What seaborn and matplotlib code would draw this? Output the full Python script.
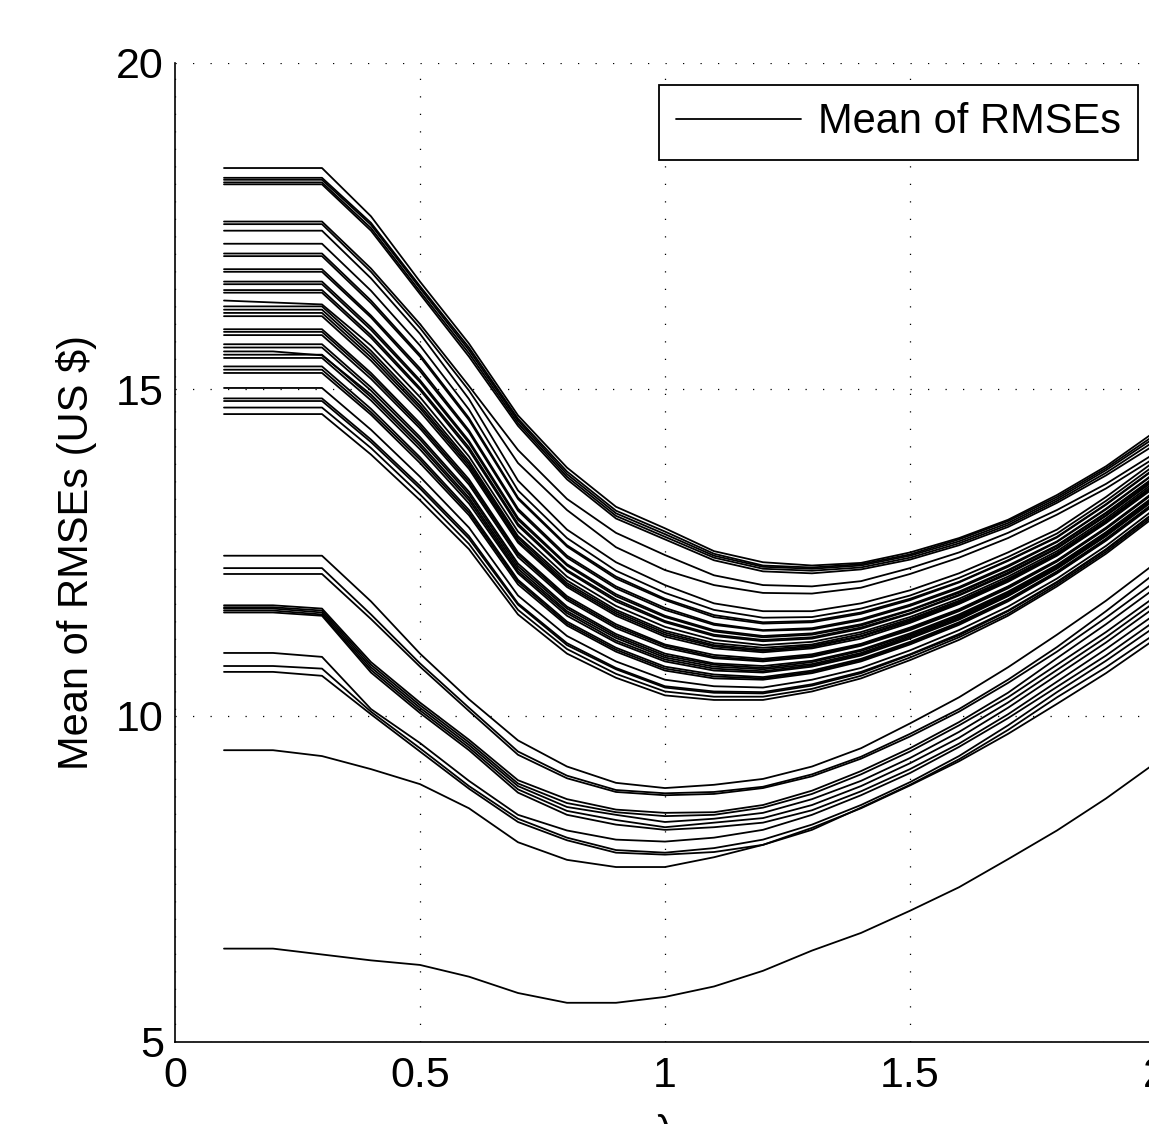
import numpy as np
import pandas as pd
import matplotlib
matplotlib.use("Agg")
import matplotlib.pyplot as plt
import seaborn as sns
from matplotlib.lines import Line2D

# lambda grid (x axis)
lam = [0.1, 0.2, 0.3, 0.4, 0.5, 0.6, 0.7, 0.8, 0.9, 1.0,
       1.1, 1.2, 1.3, 1.4, 1.5, 1.6, 1.7, 1.8, 1.9, 2.0]

# top band (highest starting curves)
top_curves = [
    [18.39, 18.39, 18.39, 17.65, 16.65, 15.70, 14.60, 13.80, 13.20, 12.87, 12.52, 12.35, 12.30, 12.34, 12.50, 12.72, 13.00, 13.38, 13.82, 14.35],
    [18.24, 18.24, 18.24, 17.55, 16.58, 15.64, 14.55, 13.74, 13.14, 12.82, 12.48, 12.30, 12.27, 12.32, 12.47, 12.70, 12.98, 13.35, 13.79, 14.30],
    [18.21, 18.21, 18.21, 17.52, 16.55, 15.60, 14.52, 13.70, 13.10, 12.78, 12.45, 12.28, 12.25, 12.30, 12.45, 12.67, 12.95, 13.32, 13.76, 14.26],
    [18.17, 18.17, 18.17, 17.47, 16.50, 15.55, 14.48, 13.66, 13.06, 12.74, 12.42, 12.25, 12.22, 12.27, 12.42, 12.64, 12.92, 13.29, 13.72, 14.21],
    [18.14, 18.14, 18.14, 17.43, 16.46, 15.50, 14.44, 13.62, 13.02, 12.70, 12.38, 12.21, 12.18, 12.24, 12.39, 12.61, 12.89, 13.26, 13.68, 14.15],
    [17.57, 17.57, 17.57, 16.85, 16.00, 15.05, 14.07, 13.32, 12.80, 12.46, 12.15, 12.00, 11.98, 12.06, 12.26, 12.50, 12.80, 13.15, 13.55, 14.02],
    [17.53, 17.53, 17.53, 16.80, 15.94, 14.98, 13.87, 13.15, 12.58, 12.23, 12.00, 11.88, 11.87, 11.96, 12.17, 12.42, 12.72, 13.08, 13.48, 13.95],
]

# main band
mid_curves = [
    [17.43, 17.43, 17.43, 16.70, 15.85, 14.85, 13.60, 12.85, 12.35, 12.00, 11.72, 11.60, 11.60, 11.72, 11.92, 12.18, 12.50, 12.85, 13.35, 13.90],
    [17.23, 17.23, 17.23, 16.51, 15.67, 14.69, 13.45, 12.72, 12.22, 11.88, 11.62, 11.50, 11.51, 11.64, 11.84, 12.11, 12.43, 12.79, 13.29, 13.84],
    [17.08, 17.08, 17.08, 16.36, 15.53, 14.56, 13.34, 12.61, 12.13, 11.79, 11.54, 11.43, 11.45, 11.58, 11.79, 12.05, 12.38, 12.74, 13.24, 13.79],
    [17.04, 17.04, 17.04, 16.32, 15.50, 14.53, 13.32, 12.59, 12.10, 11.77, 11.51, 11.41, 11.43, 11.56, 11.77, 12.04, 12.37, 12.73, 13.23, 13.78],
    [16.84, 16.84, 16.84, 16.13, 15.32, 14.37, 13.17, 12.45, 11.98, 11.65, 11.41, 11.31, 11.34, 11.48, 11.70, 11.97, 12.30, 12.67, 13.17, 13.72],
    [16.80, 16.80, 16.80, 16.10, 15.28, 14.34, 13.14, 12.42, 11.95, 11.62, 11.39, 11.30, 11.32, 11.46, 11.68, 11.95, 12.28, 12.66, 13.16, 13.71],
    [16.65, 16.65, 16.65, 15.95, 15.14, 14.21, 13.03, 12.32, 11.86, 11.53, 11.31, 11.22, 11.26, 11.40, 11.62, 11.90, 12.23, 12.61, 13.11, 13.66],
    [16.61, 16.61, 16.61, 15.91, 15.11, 14.18, 13.00, 12.30, 11.83, 11.51, 11.29, 11.20, 11.24, 11.38, 11.61, 11.88, 12.22, 12.60, 13.10, 13.65],
    [16.52, 16.52, 16.52, 15.83, 15.02, 14.11, 12.94, 12.23, 11.78, 11.45, 11.24, 11.16, 11.20, 11.35, 11.57, 11.85, 12.19, 12.57, 13.07, 13.63],
    [16.48, 16.48, 16.48, 15.79, 14.99, 14.07, 12.91, 12.21, 11.75, 11.43, 11.22, 11.14, 11.18, 11.33, 11.56, 11.84, 12.17, 12.56, 13.06, 13.61],
    [16.36, 16.33, 16.30, 15.67, 14.88, 13.97, 12.82, 12.13, 11.68, 11.36, 11.16, 11.08, 11.13, 11.28, 11.51, 11.79, 12.13, 12.52, 13.02, 13.58],
    [16.27, 16.27, 16.27, 15.59, 14.80, 13.90, 12.75, 12.07, 11.62, 11.30, 11.11, 11.04, 11.09, 11.25, 11.48, 11.76, 12.10, 12.49, 12.99, 13.55],
    [16.22, 16.22, 16.22, 15.54, 14.75, 13.86, 12.72, 12.03, 11.59, 11.27, 11.08, 11.01, 11.07, 11.22, 11.46, 11.74, 12.08, 12.48, 12.98, 13.53],
    [16.17, 16.17, 16.17, 15.49, 14.71, 13.82, 12.68, 12.00, 11.56, 11.24, 11.06, 10.99, 11.05, 11.21, 11.44, 11.72, 12.07, 12.46, 12.96, 13.52],
    [16.12, 16.12, 16.12, 15.44, 14.66, 13.78, 12.65, 11.97, 11.53, 11.21, 11.03, 10.97, 11.03, 11.18, 11.42, 11.71, 12.05, 12.45, 12.95, 13.50],
    [15.92, 15.92, 15.92, 15.25, 14.48, 13.62, 12.50, 11.83, 11.40, 11.09, 10.93, 10.87, 10.94, 11.10, 11.35, 11.63, 11.98, 12.38, 12.88, 13.44],
    [15.88, 15.88, 15.88, 15.21, 14.44, 13.58, 12.47, 11.80, 11.37, 11.07, 10.90, 10.85, 10.92, 11.09, 11.33, 11.62, 11.97, 12.37, 12.87, 13.43],
    [15.83, 15.83, 15.83, 15.16, 14.40, 13.54, 12.43, 11.77, 11.34, 11.04, 10.88, 10.83, 10.90, 11.07, 11.31, 11.60, 11.95, 12.36, 12.86, 13.42],
    [15.69, 15.69, 15.69, 15.03, 14.27, 13.43, 12.33, 11.67, 11.25, 10.95, 10.80, 10.76, 10.84, 11.01, 11.26, 11.55, 11.90, 12.31, 12.81, 13.37],
    [15.64, 15.64, 15.64, 14.98, 14.23, 13.39, 12.29, 11.64, 11.22, 10.92, 10.78, 10.73, 10.82, 10.99, 11.24, 11.53, 11.88, 12.30, 12.80, 13.36],
    [15.58, 15.58, 15.52, 14.92, 14.17, 13.34, 12.25, 11.60, 11.19, 10.89, 10.75, 10.71, 10.79, 10.96, 11.22, 11.51, 11.86, 12.28, 12.78, 13.34],
    [15.53, 15.53, 15.53, 14.88, 14.13, 13.30, 12.21, 11.57, 11.15, 10.86, 10.72, 10.68, 10.77, 10.94, 11.20, 11.49, 11.84, 12.26, 12.76, 13.33],
    [15.48, 15.48, 15.48, 14.83, 14.08, 13.25, 12.18, 11.53, 11.12, 10.83, 10.69, 10.66, 10.75, 10.92, 11.18, 11.47, 11.83, 12.25, 12.75, 13.31],
    [15.35, 15.35, 15.35, 14.70, 13.96, 13.15, 12.08, 11.44, 11.04, 10.75, 10.63, 10.59, 10.69, 10.87, 11.13, 11.43, 11.78, 12.21, 12.71, 13.27],
    [15.30, 15.30, 15.30, 14.65, 13.92, 13.11, 12.05, 11.41, 11.01, 10.72, 10.60, 10.57, 10.67, 10.85, 11.11, 11.41, 11.77, 12.19, 12.69, 13.26],
    [15.25, 15.25, 15.25, 14.61, 13.87, 13.07, 12.01, 11.38, 10.98, 10.69, 10.57, 10.55, 10.65, 10.83, 11.09, 11.39, 11.75, 12.18, 12.68, 13.24],
    [15.02, 15.02, 15.02, 14.38, 13.66, 12.88, 11.84, 11.22, 10.83, 10.55, 10.45, 10.43, 10.55, 10.73, 11.00, 11.31, 11.67, 12.10, 12.60, 13.17],
    [14.86, 14.86, 14.86, 14.23, 13.52, 12.75, 11.72, 11.11, 10.73, 10.45, 10.37, 10.36, 10.48, 10.67, 10.94, 11.25, 11.61, 12.05, 12.55, 13.12],
    [14.82, 14.82, 14.82, 14.19, 13.48, 12.71, 11.70, 11.08, 10.71, 10.43, 10.35, 10.34, 10.46, 10.65, 10.93, 11.23, 11.60, 12.04, 12.54, 13.11],
    [14.72, 14.72, 14.72, 14.10, 13.39, 12.63, 11.62, 11.02, 10.64, 10.37, 10.29, 10.29, 10.41, 10.61, 10.89, 11.20, 11.56, 12.01, 12.51, 13.08],
    [14.62, 14.62, 14.62, 14.00, 13.30, 12.55, 11.55, 10.95, 10.58, 10.31, 10.24, 10.24, 10.37, 10.57, 10.85, 11.16, 11.53, 11.98, 12.48, 13.05],
]

# lower band
low_curves = [
    [12.45, 12.45, 12.45, 11.75, 10.95, 10.25, 9.62, 9.22, 8.97, 8.89, 8.94, 9.03, 9.22, 9.50, 9.88, 10.28, 10.74, 11.24, 11.76, 12.33],
    [12.26, 12.26, 12.26, 11.55, 10.80, 10.12, 9.45, 9.08, 8.86, 8.81, 8.83, 8.91, 9.10, 9.37, 9.72, 10.10, 10.55, 11.05, 11.60, 12.18],
    [12.17, 12.17, 12.17, 11.48, 10.75, 10.07, 9.40, 9.04, 8.83, 8.78, 8.80, 8.89, 9.07, 9.34, 9.68, 10.06, 10.50, 10.98, 11.50, 12.05],
    [11.69, 11.69, 11.64, 10.82, 10.20, 9.63, 9.01, 8.72, 8.56, 8.51, 8.52, 8.63, 8.85, 9.15, 9.50, 9.90, 10.35, 10.88, 11.40, 11.95],
    [11.66, 11.66, 11.61, 10.78, 10.16, 9.59, 8.96, 8.66, 8.52, 8.46, 8.48, 8.59, 8.80, 9.10, 9.45, 9.85, 10.28, 10.78, 11.28, 11.82],
    [11.64, 11.64, 11.58, 10.74, 10.12, 9.55, 8.92, 8.60, 8.48, 8.37, 8.42, 8.51, 8.72, 9.00, 9.35, 9.75, 10.20, 10.70, 11.20, 11.74],
    [11.61, 11.61, 11.55, 10.70, 10.08, 9.51, 8.87, 8.54, 8.40, 8.29, 8.36, 8.43, 8.63, 8.92, 9.27, 9.66, 10.12, 10.62, 11.12, 11.66],
    [11.58, 11.58, 11.53, 10.66, 10.04, 9.47, 8.82, 8.48, 8.33, 8.25, 8.29, 8.36, 8.55, 8.84, 9.18, 9.57, 10.02, 10.52, 11.02, 11.55],
    [10.96, 10.96, 10.90, 10.10, 9.58, 9.00, 8.48, 8.24, 8.10, 8.07, 8.13, 8.25, 8.48, 8.78, 9.12, 9.52, 9.96, 10.44, 10.92, 11.45],
    [10.76, 10.76, 10.72, 10.06, 9.50, 8.92, 8.42, 8.13, 7.94, 7.90, 7.97, 8.10, 8.33, 8.63, 8.98, 9.38, 9.85, 10.36, 10.84, 11.36],
    [10.67, 10.67, 10.61, 10.02, 9.45, 8.88, 8.37, 8.09, 7.90, 7.87, 7.91, 8.02, 8.25, 8.59, 8.94, 9.33, 9.78, 10.28, 10.74, 11.25],
    [9.47, 9.47, 9.38, 9.18, 8.95, 8.58, 8.06, 7.79, 7.68, 7.68, 7.83, 8.02, 8.28, 8.58, 8.93, 9.30, 9.72, 10.18, 10.65, 11.17],
]

# lowest single curve
bottom_curve = [6.43, 6.43, 6.34, 6.25, 6.18, 6.00, 5.75, 5.60, 5.60, 5.69, 5.85, 6.09, 6.40, 6.67, 7.01, 7.37, 7.80, 8.24, 8.73, 9.27]

rows = []
for name, group in [("top", top_curves), ("mid", mid_curves), ("low", low_curves), ("bot", [bottom_curve])]:
    for i, vals in enumerate(group):
        for x, v in zip(lam, vals):
            rows.append((name + str(i), x, v))
df = pd.DataFrame(rows, columns=["curve", "lam", "rmse"])

sns.set_theme(style="white")
plt.rcParams["font.family"] = ["Liberation Sans", "DejaVu Sans"]
plt.rcParams["text.color"] = "black"
plt.rcParams["axes.labelcolor"] = "black"
plt.rcParams["xtick.color"] = "black"
plt.rcParams["ytick.color"] = "black"

fig = plt.figure(figsize=(11.49, 11.24), dpi=100)
ax = fig.add_axes([0.1523, 0.0730, 0.8529, 0.8710])

sns.lineplot(data=df, x="lam", y="rmse", units="curve", estimator=None,
             color="black", linewidth=1.3, legend=False, ax=ax)

ax.set_xlim(0, 2)
ax.set_ylim(5, 20)
ax.set_xticks([0, 0.5, 1, 1.5, 2])
ax.set_xticklabels(["0", "0.5", "1", "1.5", "2"])
ax.set_yticks([5, 10, 15, 20])
ax.set_yticklabels(["5", "10", "15", "20"])
ax.set_axisbelow(True)
ax.grid(True, color="black", linestyle=(0, (1, 13)), linewidth=0.9)

ax.spines["top"].set_visible(False)
ax.spines["right"].set_visible(False)
for s in ["left", "bottom"]:
    ax.spines[s].set_color("black")
    ax.spines[s].set_linewidth(1.2)

ax.tick_params(direction="in", length=7, width=1.0, colors="black", labelsize=31)
ax.tick_params(axis="x", pad=10)
ax.tick_params(axis="y", pad=8)

ax.set_ylabel(r"Mean of RMSEs (US \$)", fontsize=30, color="black")
ax.yaxis.set_label_coords(-0.080, 0.5)
ax.set_xlabel("λ", fontsize=30, color="black")
ax.xaxis.set_label_coords(0.5, -0.074)

handle = Line2D([], [], color="black", linewidth=1.3)
leg = ax.legend([handle], ["Mean of RMSEs"], loc="upper right",
                bbox_to_anchor=(0.983, 0.9775), borderaxespad=0, fontsize=30,
                handlelength=3.0, handletextpad=0.4, borderpad=0.42,
                fancybox=False, framealpha=1, edgecolor="black")
leg.get_frame().set_linewidth(1.3)
for t in leg.get_texts():
    t.set_color("black")

fig.savefig("out.png", dpi=100)
